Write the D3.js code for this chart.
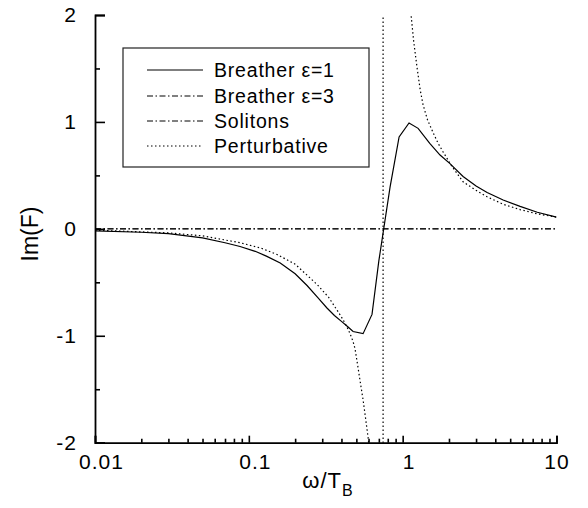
<!DOCTYPE html>
<html>
<head>
<meta charset="utf-8">
<script src="https://cdn.jsdelivr.net/npm/d3@7"></script>
<style>
  html, body { margin: 0; padding: 0; background: #fff; }
  svg { display: block; }
  text { font-family: "Liberation Sans", Arial, sans-serif; fill: #000; }
</style>
</head>
<body>
<svg id="chart" width="588" height="508"></svg>
<script>
// ---- data ----
const xMajorTicks = [0.01, 0.1, 1, 10];
const xTickLabels = ["0.01", "0.1", "1", "10"];
const yMajorTicks = [-2, -1, 0, 1, 2];
const yTickLabels = ["-2", "-1", "0", "1", "2"];
const yMinorTicks = [-1.5, -0.5, 0.5, 1.5];

const legendLabels = ["Breather \u03b5=1", "Breather \u03b5=3", "Solitons", "Perturbative"];

// Breather epsilon = 1 (solid)
const omegaB1 = [0.01, 0.02, 0.03, 0.05, 0.07, 0.0877, 0.11, 0.13, 0.16, 0.2, 0.239, 0.28, 0.322, 0.36, 0.4, 0.44, 0.476, 0.553, 0.632, 0.70, 0.828, 0.948, 1.10, 1.26, 1.5, 1.75, 2.03, 2.47, 3.0, 3.54, 4.5, 5.8, 7.5, 10];
const imB1    = [-0.018, -0.032, -0.045, -0.085, -0.13, -0.165, -0.21, -0.255, -0.32, -0.42, -0.53, -0.64, -0.74, -0.81, -0.865, -0.915, -0.96, -0.98, -0.80, -0.30, 0.39, 0.86, 0.99, 0.94, 0.80, 0.69, 0.61, 0.49, 0.40, 0.34, 0.27, 0.21, 0.155, 0.11];

// Breather epsilon = 3 (dash-dot)
const omegaB3 = [0.01, 0.1, 1, 10];
const imB3    = [0, 0, 0, 0];

// Solitons (dash-dot)
const omegaSol = [0.01, 0.1, 1, 10];
const imSol    = [0, 0, 0, 0];

// Perturbative (dotted), diverging at the pole near omega = 0.746
const omegaPert = [0.01, 0.03, 0.05, 0.0877, 0.12, 0.1526, 0.2, 0.2776, 0.33, 0.3746, 0.41, 0.435, 0.455, 0.475, 0.49, 0.513, 0.535, 0.553, 0.575, 0.596, 0.62, 0.746, 0.746, 1.134, 1.18, 1.24, 1.30, 1.357, 1.45, 1.577, 1.7, 1.831, 2.1, 2.47, 3.0, 3.54, 4.5, 5.8, 7.5, 10];
const imPert    = [-0.012, -0.038, -0.065, -0.13, -0.18, -0.24, -0.33, -0.52, -0.64, -0.76, -0.85, -0.92, -0.98, -1.05, -1.12, -1.30, -1.47, -1.60, -1.78, -1.95, -2.2, -12, 12, 2.0, 1.75, 1.51, 1.30, 1.16, 1.02, 0.90, 0.80, 0.72, 0.58, 0.44, 0.36, 0.30, 0.23, 0.18, 0.14, 0.11];

// ---- chart ----
const svg = d3.select("#chart");
const x = d3.scaleLog().domain([0.01, 10]).range([95, 556.5]);
const y = d3.scaleLinear().domain([-2, 2]).range([442.7, 15]);

const xMinor = [];
[0.01, 0.1, 1].forEach(dec => { for (let k = 2; k <= 9; k++) xMinor.push(dec * k); });

svg.append("defs").append("clipPath").attr("id", "plotclip")
  .append("rect").attr("x", 95).attr("y", 15).attr("width", 461.5).attr("height", 427.7);

const line = d3.line().x(d => x(d[0])).y(d => y(d[1]));
const zip = (a, b) => a.map((v, i) => [v, b[i]]);
const dashDot = "6,2.5,1.5,2.5";

const curves = svg.append("g").attr("clip-path", "url(#plotclip)");
curves.append("path").datum(zip(omegaB3, imB3))
  .attr("d", line).attr("fill", "none").attr("stroke", "#000")
  .attr("stroke-width", 1).attr("stroke-dasharray", dashDot);
curves.append("path").datum(zip(omegaSol, imSol))
  .attr("d", line).attr("fill", "none").attr("stroke", "#000")
  .attr("stroke-width", 1).attr("stroke-dasharray", dashDot);
curves.append("path").datum(zip(omegaPert, imPert))
  .attr("d", line).attr("fill", "none").attr("stroke", "#000")
  .attr("stroke-width", 1.2).attr("stroke-dasharray", "1.5,2.5");
curves.append("path").datum(zip(omegaB1, imB1))
  .attr("d", line).attr("fill", "none").attr("stroke", "#000")
  .attr("stroke-width", 1.2);

// axes
const tickFont = 21;
const yAxis = d3.axisLeft(y).tickValues(yMajorTicks).tickSize(-10).tickPadding(18)
  .tickFormat((d, i) => yTickLabels[i]);
const gy = svg.append("g").attr("transform", "translate(95,0)").call(yAxis);
const yAxisMinor = d3.axisLeft(y).tickValues(yMinorTicks).tickSize(-5).tickFormat("");
const gym = svg.append("g").attr("transform", "translate(95,0)").call(yAxisMinor);
gym.select(".domain").remove();

const xAxis = d3.axisBottom(x).tickValues(xMajorTicks).tickSize(-7).tickPadding(11)
  .tickFormat((d, i) => xTickLabels[i]);
const gx = svg.append("g").attr("transform", "translate(0,442.7)").call(xAxis);
const xAxisMinor = d3.axisBottom(x).tickValues(xMinor).tickSize(-4).tickFormat("");
const gxm = svg.append("g").attr("transform", "translate(0,442.7)").call(xAxisMinor);
gxm.select(".domain").remove();

[gy, gx].forEach(g => {
  g.select(".domain").attr("stroke", "#000").attr("stroke-width", 1.8);
  g.selectAll("text").attr("font-size", tickFont).attr("letter-spacing", 1)
    .attr("font-family", "'Liberation Sans', Arial, sans-serif").attr("fill", "#000");
});
[gy, gym, gx, gxm].forEach(g => g.selectAll(".tick line").attr("stroke", "#000").attr("stroke-width", 1.6));
gx.selectAll("text").attr("dx", (d) => d === 10 ? 0 : 6);

// axis titles
svg.append("text")
  .attr("transform", "translate(38,234) rotate(-90)")
  .attr("text-anchor", "middle").attr("font-size", 23)
  .text("Im(F)");

const xt = svg.append("text").attr("x", 328).attr("y", 488)
  .attr("text-anchor", "middle").attr("font-size", 22).attr("letter-spacing", 1);
xt.append("tspan").text("\u03c9/T");
xt.append("tspan").attr("font-size", 16).attr("dy", 8).text("B");

// legend
const lg = svg.append("g");
lg.append("rect").attr("x", 123).attr("y", 48).attr("width", 246).attr("height", 119)
  .attr("fill", "#fff").attr("stroke", "#222").attr("stroke-width", 1.2);
const legendDash = [null, dashDot, dashDot, "1.5,2.5"];
const legendRows = [70, 96, 121, 146];
legendLabels.forEach((lab, i) => {
  const yy = legendRows[i];
  const l = lg.append("line").attr("x1", 147).attr("x2", 203).attr("y1", yy).attr("y2", yy)
    .attr("stroke", "#000").attr("stroke-width", i === 0 ? 1.2 : 1);
  if (legendDash[i]) l.attr("stroke-dasharray", legendDash[i]);
  lg.append("text").attr("x", 214).attr("y", yy + 7).attr("font-size", 19.5)
    .attr("letter-spacing", 0.8).text(lab);
});
</script>
</body>
</html>
